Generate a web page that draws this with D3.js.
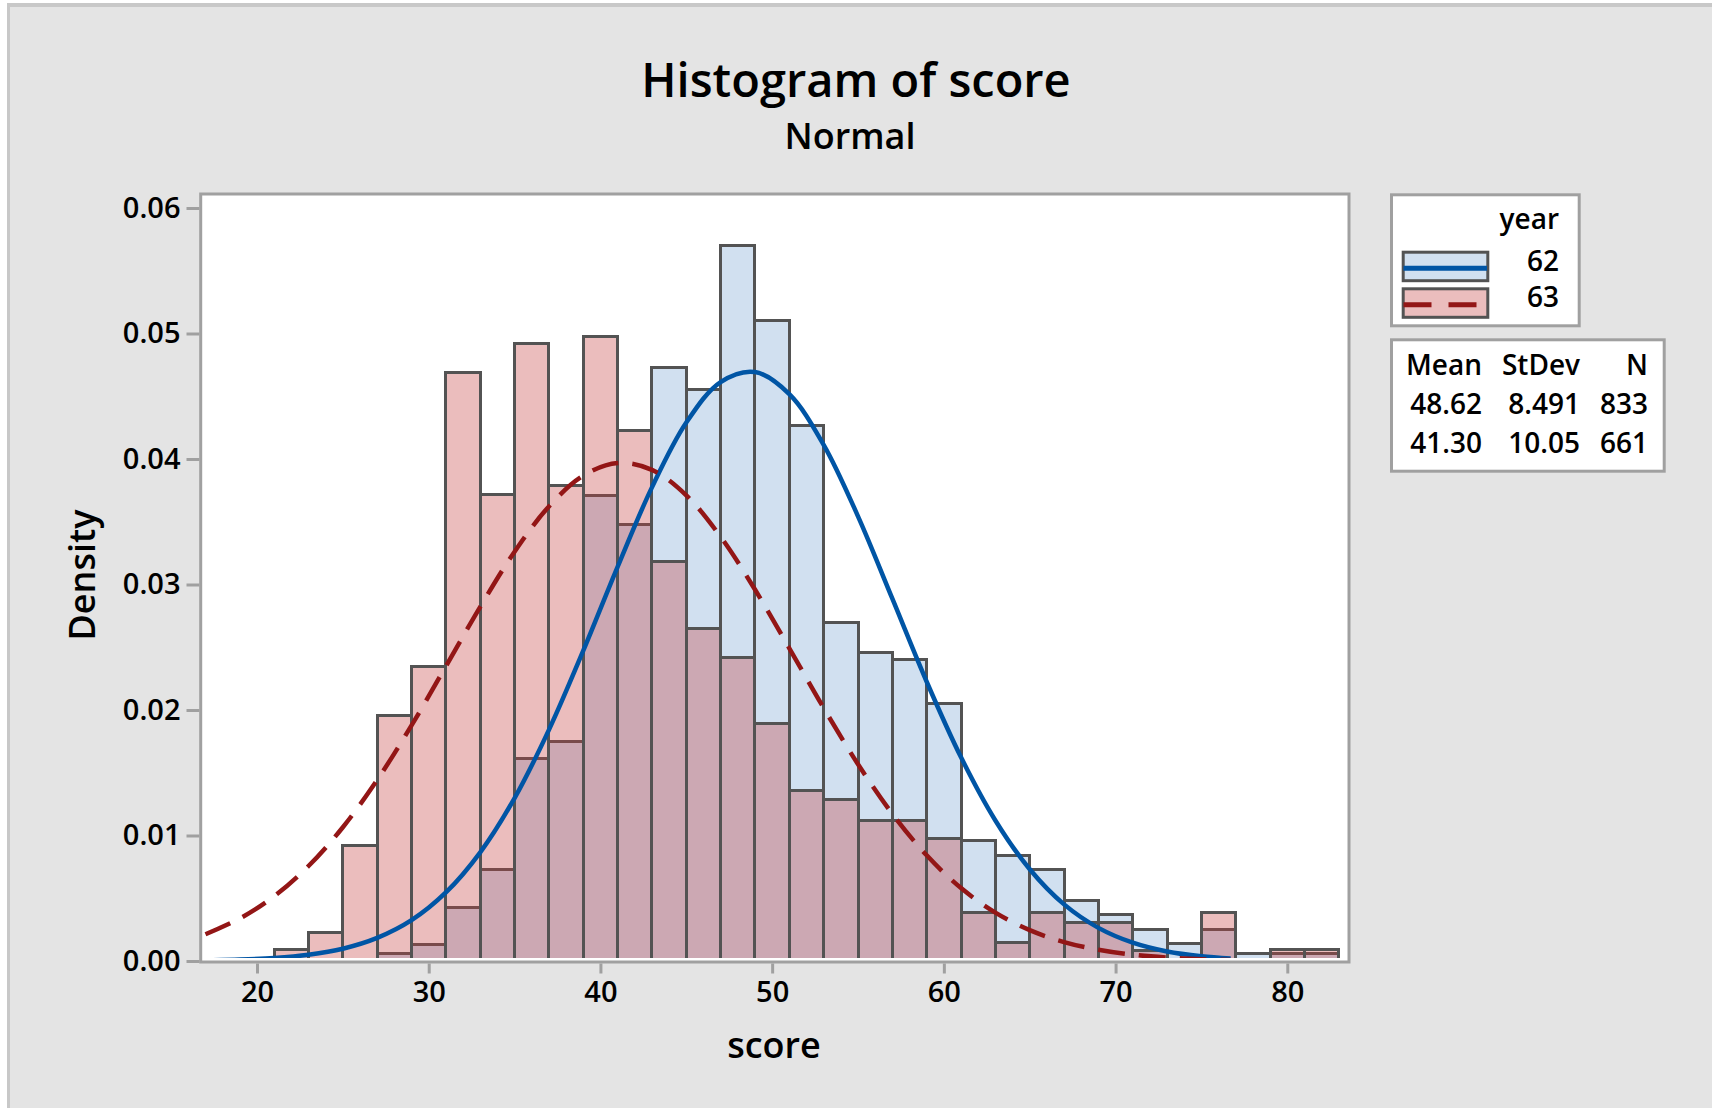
<!DOCTYPE html>
<html>
<head>
<meta charset="utf-8">
<script src="https://cdn.jsdelivr.net/npm/d3@7"></script>
<style>
    body { margin: 0; background: #fff; }
    svg text { font-family: "Open Sans", "Noto Sans", sans-serif; font-weight: 600; fill: #000; }
</style>
</head>
<body>
<div id="chart"></div>
<script>
// Left edge of every bin (width 2)
var binStart = [21, 23, 25, 27, 29, 31, 33, 35, 37, 39, 41, 43, 45, 47, 49, 51,
                53, 55, 57, 59, 61, 63, 65, 67, 69, 71, 73, 75, 77, 79, 81];
var binWidth = 2;

// Density per bin, year 62 and year 63
var density62 = [0, 0, 0, 0.0006, 0.0013, 0.0043, 0.0073, 0.0161, 0.0175, 0.0371, 0.0348,
                 0.0473, 0.0455, 0.0570, 0.0510, 0.0427, 0.0270, 0.0246, 0.0240, 0.0205,
                 0.0096, 0.0084, 0.0073, 0.0048, 0.0037, 0.0025, 0.0014, 0.0025, 0.0006,
                 0.0006, 0.0006];
var density63 = [0.0009, 0.0023, 0.0092, 0.0196, 0.0235, 0.0469, 0.0372, 0.0492, 0.0379,
                 0.0498, 0.0423, 0.0318, 0.0265, 0.0242, 0.0189, 0.0136, 0.0129, 0.0112,
                 0.0112, 0.0098, 0.0039, 0.0015, 0.0039, 0.0031, 0.0031, 0.0008, 0, 0.0039,
                 0, 0.0009, 0.0009];

// Fitted normal curves
var curveX = [17, 19, 21, 23, 25, 27, 29, 31, 33, 35, 37, 39, 41, 43, 45, 47, 49, 51,
              53, 55, 57, 59, 61, 63, 65, 67, 69, 71, 73, 75, 76.7];
var fit62 = [0.00005, 0.00011, 0.00024, 0.00050, 0.00098, 0.00184, 0.00325, 0.00546,
             0.00866, 0.01298, 0.01842, 0.02473, 0.03141, 0.03774, 0.04290, 0.04613,
             0.04693, 0.04517, 0.04113, 0.03543, 0.02887, 0.02225, 0.01623, 0.01120,
             0.00731, 0.00451, 0.00264, 0.00146, 0.00076, 0.00038, 0.00020];
var fit63 = [0.00213, 0.00339, 0.00516, 0.00757, 0.01066, 0.01443, 0.01877, 0.02348,
             0.02822, 0.03261, 0.03622, 0.03867, 0.03968, 0.03913, 0.03710, 0.03380,
             0.02960, 0.02492, 0.02016, 0.01568, 0.01172, 0.00842, 0.00581, 0.00386,
             0.00246, 0.00151, 0.00089, 0.00050, 0.00027, 0.00014, 0.00008];

var xTicks = [20, 30, 40, 50, 60, 70, 80];
var yTicks = [0, 0.01, 0.02, 0.03, 0.04, 0.05, 0.06];

var years = ["62", "63"];
var statHeader = ["Mean", "StDev", "N"];
var statRows = [["48.62", "8.491", "833"], ["41.30", "10.05", "661"]];

var width = 1712;
var height = 1108;
var frame = { left: 200.7, right: 1349, top: 194, bottom: 962 };

var blueFill = "#d1e0f0";
var redFill = "rgb(196,61,61)";
var redAlpha = 0.34;
var barStroke = "#535353";
var blueLine = "#0055a5";
var redLine = "#931616";

var svg = d3.select("#chart")
    .append("svg")
    .attr("width", width)
    .attr("height", height);

// background + thin outer border on top/left
svg.append("rect").attr("width", width).attr("height", height).attr("fill", "#ffffff");
svg.append("rect").attr("x", 7).attr("y", 3).attr("width", width - 7).attr("height", height - 3).attr("fill", "#c8c8c8");
svg.append("rect").attr("x", 10).attr("y", 7).attr("width", width - 10).attr("height", height - 7).attr("fill", "#e4e4e4");

var x = d3.scaleLinear().domain([20, 80]).range([257, 1287.3]);
var y = d3.scaleLinear().domain([0, 0.06]).range([961, 208]);

// plot area
svg.append("rect")
    .attr("x", frame.left)
    .attr("y", frame.top)
    .attr("width", frame.right - frame.left)
    .attr("height", frame.bottom - frame.top)
    .attr("fill", "#ffffff");

svg.append("clipPath").attr("id", "clip")
    .append("rect")
    .attr("x", frame.left + 1.5)
    .attr("y", frame.top + 1.5)
    .attr("width", frame.right - frame.left - 3)
    .attr("height", 958 - frame.top - 1.5);

var plot = svg.append("g").attr("clip-path", "url(#clip)");

var bars62 = binStart.map(function(b, i) { return { x0: b, v: density62[i] }; }).filter(function(d) { return d.v > 0; });
var bars63 = binStart.map(function(b, i) { return { x0: b, v: density63[i] }; }).filter(function(d) { return d.v > 0; });

// year 62 bars first, then the translucent year 63 bars on top
plot.append("g").selectAll("rect")
    .data(bars62)
    .enter()
    .append("rect")
    .attr("x", function(d) { return x(d.x0); })
    .attr("y", function(d) { return y(d.v); })
    .attr("width", function(d) { return x(d.x0 + binWidth) - x(d.x0); })
    .attr("height", function(d) { return y(0) - y(d.v); })
    .attr("fill", blueFill)
    .attr("stroke", barStroke)
    .attr("stroke-width", 3)
    .attr("shape-rendering", "crispEdges");

plot.append("g").selectAll("rect")
    .data(bars63)
    .enter()
    .append("rect")
    .attr("x", function(d) { return x(d.x0); })
    .attr("y", function(d) { return y(d.v); })
    .attr("width", function(d) { return x(d.x0 + binWidth) - x(d.x0); })
    .attr("height", function(d) { return y(0) - y(d.v); })
    .attr("fill", redFill)
    .attr("fill-opacity", redAlpha)
    .attr("stroke", barStroke)
    .attr("stroke-width", 3)
    .attr("shape-rendering", "crispEdges");

var line = d3.line()
    .x(function(d) { return x(d[0]); })
    .y(function(d) { return y(d[1]); })
    .curve(d3.curveCatmullRom);

plot.append("path")
    .datum(curveX.map(function(v, i) { return [v, fit62[i]]; }))
    .attr("d", line)
    .attr("fill", "none")
    .attr("stroke", blueLine)
    .attr("stroke-width", 4.5);

plot.append("path")
    .datum(curveX.map(function(v, i) { return [v, fit63[i]]; }))
    .attr("d", line)
    .attr("fill", "none")
    .attr("stroke", redLine)
    .attr("stroke-width", 4.5)
    .attr("stroke-dasharray", "27,14");

// frame drawn over the data
svg.append("rect")
    .attr("x", frame.left)
    .attr("y", frame.top)
    .attr("width", frame.right - frame.left)
    .attr("height", frame.bottom - frame.top)
    .attr("fill", "none")
    .attr("stroke", "#a0a0a0")
    .attr("stroke-width", 3);

// axes
var yAxis = svg.append("g")
    .attr("transform", "translate(199.5,0)")
    .call(d3.axisLeft(y).tickValues(yTicks).tickFormat(d3.format(".2f")).tickSize(13).tickPadding(6));

var xAxis = svg.append("g")
    .attr("transform", "translate(0,963.5)")
    .call(d3.axisBottom(x).tickValues(xTicks).tickSize(10).tickPadding(8));

[yAxis, xAxis].forEach(function(g) {
    g.select(".domain").remove();
    g.selectAll(".tick line").attr("stroke", "#a0a0a0").attr("stroke-width", 3);
    g.selectAll(".tick text").attr("font-size", 29).attr("font-family", null).style("fill", "#000");
    g.attr("font-family", null);
});

// titles
svg.append("text")
    .attr("x", 856)
    .attr("y", 97)
    .attr("text-anchor", "middle")
    .style("font-size", "47px")
    .text("Histogram of score");

svg.append("text")
    .attr("x", 850)
    .attr("y", 149)
    .attr("text-anchor", "middle")
    .style("font-size", "36px")
    .text("Normal");

svg.append("text")
    .attr("x", 774)
    .attr("y", 1058)
    .attr("text-anchor", "middle")
    .style("font-size", "36px")
    .text("score");

svg.append("text")
    .attr("transform", "translate(95,575) rotate(-90)")
    .attr("text-anchor", "middle")
    .style("font-size", "36px")
    .text("Density");

// legend: year
svg.append("rect")
    .attr("x", 1391.5).attr("y", 194.8)
    .attr("width", 187.7).attr("height", 131)
    .attr("fill", "#ffffff").attr("stroke", "#a0a0a0").attr("stroke-width", 3);

svg.append("text").attr("x", 1559).attr("y", 229).attr("text-anchor", "end")
    .style("font-size", "28px").text("year");

var swatchY = [252.2, 288.8];
years.forEach(function(yr, i) {
    svg.append("rect")
        .attr("x", 1403.2).attr("y", swatchY[i])
        .attr("width", 84.6).attr("height", 28.5)
        .attr("fill", i === 0 ? blueFill : redFill)
        .attr("fill-opacity", i === 0 ? 1 : redAlpha)
        .attr("stroke", barStroke).attr("stroke-width", 3);
    svg.append("line")
        .attr("x1", 1403.5).attr("x2", 1487)
        .attr("y1", swatchY[i] + 16).attr("y2", swatchY[i] + 16)
        .attr("stroke", i === 0 ? blueLine : redLine)
        .attr("stroke-width", 5)
        .attr("stroke-dasharray", i === 0 ? null : "28,17");
    svg.append("text")
        .attr("x", 1559).attr("y", swatchY[i] + 18.5)
        .attr("text-anchor", "end")
        .style("font-size", "28px")
        .text(yr);
});

// legend: statistics table
svg.append("rect")
    .attr("x", 1391.5).attr("y", 339.8)
    .attr("width", 272.7).attr("height", 131.4)
    .attr("fill", "#ffffff").attr("stroke", "#a0a0a0").attr("stroke-width", 3);

var colRight = [1482, 1580, 1648];
var rowBase = [375, 414, 452.5];
[statHeader].concat(statRows).forEach(function(row, r) {
    row.forEach(function(cell, c) {
        svg.append("text")
            .attr("x", colRight[c])
            .attr("y", rowBase[r])
            .attr("text-anchor", "end")
            .style("font-size", "28px")
            .text(cell);
    });
});
</script>
</body>
</html>
